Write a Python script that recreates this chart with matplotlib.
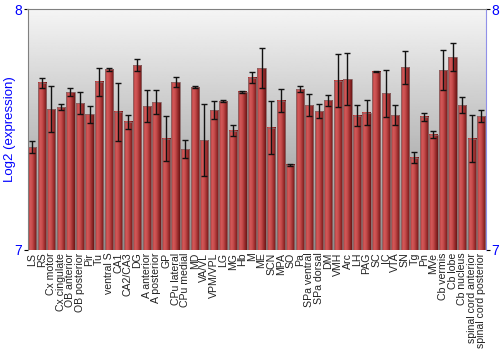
import matplotlib
matplotlib.use('Agg')
import matplotlib.pyplot as plt
import numpy as np
from matplotlib.colors import LinearSegmentedColormap

regions = ['LS', 'RS', 'Cx motor', 'Cx cingulate', 'OB anterior', 'OB posterior',
           'Pir', 'Tu', 'ventral S', 'CA1', 'CA2/CA3', 'DG', 'A anterior',
           'A posterior', 'GP', 'CPu lateral', 'CPu medial', 'MD', 'VA/VL',
           'VPM/VPL', 'LG', 'MG', 'Hb', 'M', 'ME', 'SCN', 'MPA', 'SO', 'Pa',
           'SPa ventral', 'SPa dorsal', 'DM', 'VMH', 'Arc', 'LH', 'PAG', 'SC',
           'IC', 'VTA', 'SN', 'Tg', 'Pn', 'MVe', 'Cb vermis', 'Cb lobe',
           'Cb nucleus', 'spinal cord anterior', 'spinal cord posterior']

expression = [7.427, 7.694, 7.585, 7.593, 7.656, 7.610, 7.563, 7.698, 7.750,
              7.574, 7.532, 7.768, 7.598, 7.614, 7.462, 7.697, 7.419, 7.676,
              7.456, 7.581, 7.617, 7.495, 7.657, 7.715, 7.755, 7.508, 7.620,
              7.353, 7.668, 7.602, 7.577, 7.622, 7.703, 7.710, 7.557, 7.570,
              7.740, 7.651, 7.560, 7.758, 7.383, 7.553, 7.478, 7.747, 7.800,
              7.602, 7.462, 7.556]

error = [0.025, 0.021, 0.095, 0.012, 0.016, 0.046, 0.036, 0.057, 0.006,
         0.120, 0.030, 0.026, 0.068, 0.048, 0.093, 0.019, 0.036, 0.003,
         0.150, 0.039, 0.004, 0.024, 0.004, 0.023, 0.084, 0.109, 0.049,
         0.003, 0.014, 0.047, 0.030, 0.023, 0.109, 0.109, 0.043, 0.051,
         0.003, 0.098, 0.041, 0.067, 0.022, 0.017, 0.015, 0.085, 0.059,
         0.032, 0.097, 0.026]

ymin, ymax = 7, 8
blue = '#0000ff'

fig = plt.figure(figsize=(5, 3.5), dpi=100)
ax = fig.add_axes([0.055, 0.286, 0.917, 0.688])

x = np.arange(len(regions))
ax.set_xlim(-0.5, len(regions) - 0.5)
ax.set_ylim(ymin, ymax)

# grey background gradient, light at the top
bg = np.linspace(0.96, 0.55, 256).reshape(-1, 1)
ax.imshow(bg, cmap='gray', vmin=0, vmax=1, extent=[0, 1, 0, 1],
          transform=ax.transAxes, aspect='auto', zorder=0)

# cylinder-like shading on the bars
bar_cmap = LinearSegmentedColormap.from_list(
    'barshade', ['#a83434', '#d45a5a', '#c44a4a', '#9a2c2c', '#6a1616'])
shade = np.linspace(0, 1, 64).reshape(1, -1)
w = 0.86
for xi, v in zip(x, expression):
    ax.imshow(shade, cmap=bar_cmap, extent=[xi - w / 2, xi + w / 2, ymin, v],
              aspect='auto', zorder=2)
    ax.add_patch(plt.Rectangle((xi - w / 2, ymin), w, v - ymin, fill=False,
                               edgecolor='#8a6a6a', lw=0.6, zorder=2.5))

ax.errorbar(x, expression, yerr=error, fmt='none', ecolor='#111111',
            elinewidth=1, capsize=2, capthick=1, zorder=3)

ax.set_xticks(x)
ax.set_xticklabels(regions, rotation=90, fontsize=7.6,
                   family='Liberation Sans', color='#222222')
ax.tick_params(axis='x', length=0, pad=2)

ax.set_yticks([7, 8])
ax.set_yticklabels(['7', '8'], fontsize=10, color=blue, family='Liberation Sans')
ax.tick_params(axis='y', length=3, pad=1, labelright=True, right=True)
for t in ax.yaxis.get_major_ticks():
    t.tick2line.set_color(blue)

ax.set_ylabel('Log2 (expression)', color=blue, fontsize=9.5,
              family='Liberation Sans', va='center')
ax.yaxis.set_label_coords(-0.039, 0.5)

ax.spines['bottom'].set_visible(False)
ax.spines['left'].set_color('#808080')
ax.spines['top'].set_color('#808080')
ax.spines['right'].set_color('#9090e8')

fig.savefig('out.png', dpi=100)
